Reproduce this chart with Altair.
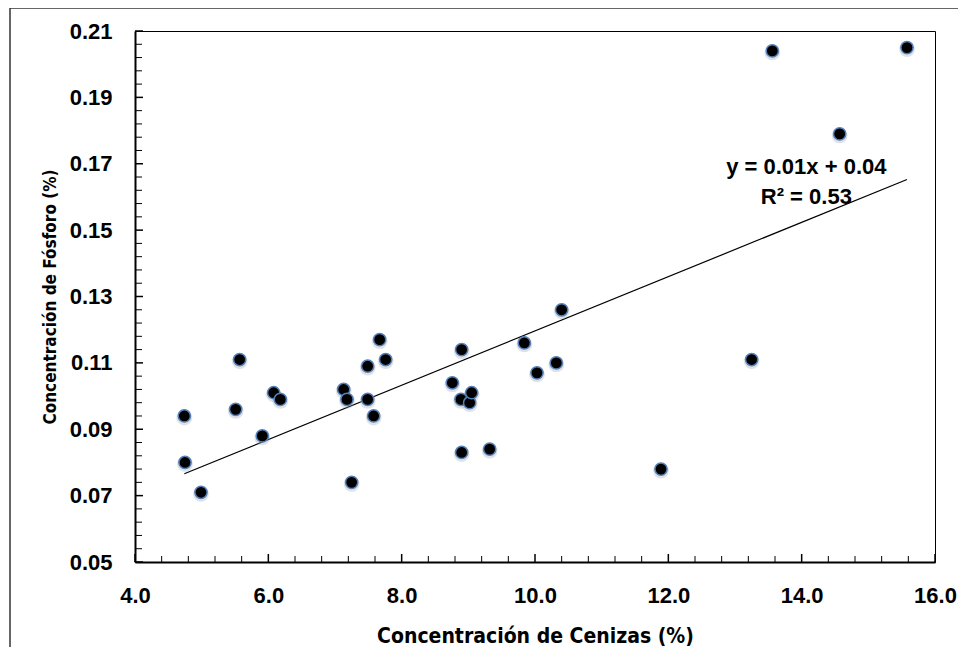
import altair as alt
import pandas as pd

# ---- data ----
ash = [4.74, 4.75, 4.99, 5.51, 5.57, 5.91, 6.08, 6.18, 7.13, 7.18, 7.25, 7.49, 7.49, 7.58,
       7.67, 7.76, 8.76, 8.89, 8.90, 8.90, 9.02, 9.05, 9.32, 9.84, 10.03, 10.32, 10.40,
       11.89, 13.25, 13.56, 14.57, 15.58]
phos = [0.094, 0.080, 0.071, 0.096, 0.111, 0.088, 0.101, 0.099, 0.102, 0.099, 0.074, 0.109,
        0.099, 0.094, 0.117, 0.111, 0.104, 0.099, 0.114, 0.083, 0.098, 0.101, 0.084, 0.116,
        0.107, 0.110, 0.126, 0.078, 0.111, 0.204, 0.179, 0.205]

x_labels = [4, 6, 8, 10, 12, 14, 16]
y_labels = [0.05, 0.07, 0.09, 0.11, 0.13, 0.15, 0.17, 0.19, 0.21]
x_minor_ticks = [round(4 + 0.4 * k, 1) for k in range(31) if k % 5]
y_minor_ticks = [round(0.05 + 0.004 * k, 3) for k in range(41) if k % 5]

eq_text = ["y = 0.01x + 0.04", "R² = 0.53"]
eq_x = [14.07, 14.07]
eq_y = [0.169, 0.160]

W, H = 800, 531
NARROW = "Liberation Sans Narrow, Arial Narrow, DejaVu Sans Condensed, sans-serif"
SANS = "Liberation Sans, Arial, sans-serif"

df = pd.DataFrame({"ash": ash, "phos": phos})
eq_df = pd.DataFrame({"t": eq_text, "ex": eq_x, "ey": eq_y})
xs = alt.Scale(domain=[4, 16], nice=False, zero=False)
ys = alt.Scale(domain=[0.05, 0.21], nice=False, zero=False)
one = alt.Data(values=[{"a": 1}])

x_axis = alt.Axis(
    orient="bottom",
    values=x_labels, format=".1f", title="Concentración de Cenizas (%)",
    ticks=False, tickSize=0, grid=False, domainColor="black", domainWidth=2,
    labelFlush=False, labelOverlap=False,
    labelFont=SANS, labelFontSize=22, labelFontWeight="bold", labelColor="black",
    labelPadding=23, titleFont=NARROW, titleFontSize=21, titleFontWeight="bold",
    titleColor="black", titlePadding=19)
y_axis = alt.Axis(
    orient="left",
    values=y_labels, format=".2f", title="Concentración de Fósforo (%)",
    ticks=False, tickSize=0, grid=False, domainColor="black", domainWidth=2,
    labelFlush=False, labelOverlap=False,
    labelFont=SANS, labelFontSize=22, labelFontWeight="bold", labelColor="black",
    labelPadding=23, titleFont=NARROW, titleFontSize=17, titleFontWeight="bold",
    titleColor="black", titlePadding=10)


def X(f, axis=None):
    return alt.X(f, scale=xs, axis=axis)


def Y(f, axis=None):
    return alt.Y(f, scale=ys, axis=axis)


# outer chart frame (decoration)
frame_top = alt.Chart(one).mark_rule(color="#333333", strokeWidth=1.5).encode(
    x=alt.value(-125), x2=alt.value(W + 60), y=alt.value(-23))
frame_left = alt.Chart(one).mark_rule(color="#333333", strokeWidth=1.5).encode(
    x=alt.value(-125), y=alt.value(-23), y2=alt.value(H + 120))

# inside tick marks, drawn as short rules from tick-position data
xmaj = alt.Chart(pd.DataFrame({"xt": x_labels})).mark_rule(color="black", strokeWidth=1.5).encode(
    x=X("xt:Q"), y=alt.value(H), y2=alt.value(H - 8))
xmin = alt.Chart(pd.DataFrame({"xt": x_minor_ticks})).mark_rule(color="black", strokeWidth=1).encode(
    x=X("xt:Q"), y=alt.value(H), y2=alt.value(H - 6))
ymaj = alt.Chart(pd.DataFrame({"yt": y_labels})).mark_rule(color="black", strokeWidth=1.5).encode(
    y=Y("yt:Q"), x=alt.value(0), x2=alt.value(8))
ymin = alt.Chart(pd.DataFrame({"yt": y_minor_ticks})).mark_rule(color="black", strokeWidth=1).encode(
    y=Y("yt:Q"), x=alt.value(0), x2=alt.value(7))

trend = alt.Chart(df).transform_regression("ash", "phos").mark_line(
    color="black", strokeWidth=1.2).encode(x=X("ash:Q"), y=Y("phos:Q"))

shadow = alt.Chart(df).mark_circle(size=250, color="#8a97a8", opacity=0.28, yOffset=1.5).encode(
    x=X("ash:Q"), y=Y("phos:Q"))

# scatter points carry the main axes
points = alt.Chart(df).mark_point(
    filled=False, shape="circle", size=150, fill="black", fillOpacity=1,
    stroke="#5580b8", strokeWidth=1.5, opacity=1).encode(
    x=X("ash:Q", x_axis), y=Y("phos:Q", y_axis))

eq = alt.Chart(eq_df).mark_text(font=SANS, fontSize=22, fontWeight="bold", color="black",
                                align="center", baseline="middle").encode(
    x=X("ex:Q"), y=Y("ey:Q"), text="t:N")

chart = alt.layer(frame_top, frame_left, xmin, xmaj, ymin, ymaj, trend, shadow, points, eq).resolve_axis(
    x="independent", y="independent"
).properties(
    width=W, height=H,
    autosize=alt.AutoSizeParams(type="none"),
    padding={"left": 127, "top": 23, "right": 23, "bottom": 85},
    background="white",
).configure_view(stroke="black", strokeWidth=1)

chart.save("out.html", embed_options={"renderer": "svg", "actions": False})
